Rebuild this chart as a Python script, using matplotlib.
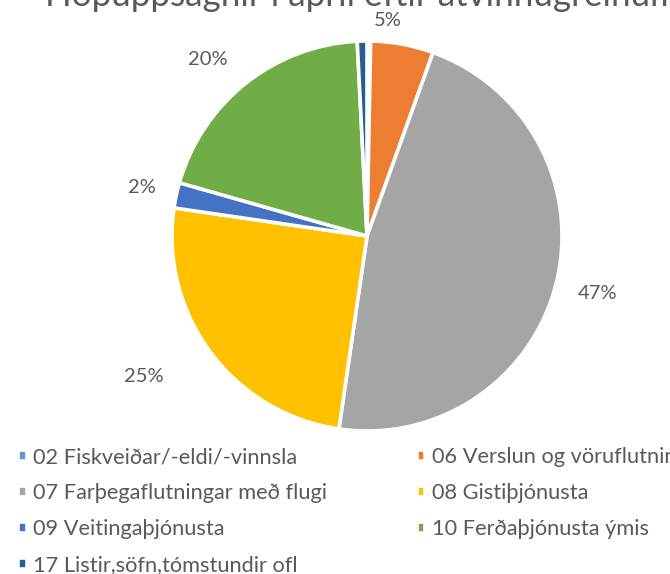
import matplotlib.pyplot as plt
import numpy as np

plt.rcParams['font.family'] = ['Lato', 'DejaVu Sans']

title = 'Hópuppsagnir í apríl eftir atvinnugreinum'
categories = ['02 Fiskveiðar/-eldi/-vinnsla', '06 Verslun og vöruflutningar',
              '07 Farþegaflutningar með flugi', '08 Gistiþjónusta',
              '09 Veitingaþjónusta', '10 Ferðaþjónusta ýmis',
              '17 Listir,söfn,tómstundir ofl']
shares = [0.3, 5.2, 46.8, 25.0, 2.1, 19.8, 0.8]
pct_labels = ['', '5%', '47%', '25%', '2%', '20%', '']
colors = ['#5B9BD5', '#ED7D31', '#A5A5A5', '#FFC000', '#4472C4', '#70AD47', '#255E91']

# label placement: radial distance and angle shift (deg, counter-clockwise)
label_dist = [1.15, 1.11, 1.22, 1.35, 1.18, 1.22, 1.15]
label_shift = [0, 5, 0, -4.5, 0, 3.5, 0]

fig = plt.figure(figsize=(6.7, 5.74), dpi=100)
# pie radius ~195 px, centre at (367, 236) px from top-left
lim = 1.4
R = 195
ax = fig.add_axes([(367 - lim * R) / 670, (574 - 236 - lim * R) / 574,
                   2 * lim * R / 670, 2 * lim * R / 574])
wedges, _ = ax.pie(shares, colors=colors, startangle=90, counterclock=False,
                   wedgeprops=dict(edgecolor='white', linewidth=2.6))
ax.set_xlim(-lim, lim)
ax.set_ylim(-lim, lim)
ax.set_aspect('equal')
ax.axis('off')

for w, lab, d, s in zip(wedges, pct_labels, label_dist, label_shift):
    if not lab:
        continue
    ang = np.deg2rad((w.theta1 + w.theta2) / 2 + s)
    ax.text(d * np.cos(ang), d * np.sin(ang), lab, ha='center', va='center',
            fontsize=14.5, color='#595959')

# title is cropped by the top edge, as in the source image
fig.text(362 / 670, 1 - 5.5 / 574, title, ha='center', va='baseline',
         fontsize=25.2, color='#595959')

# legend is filled row by row, two columns
order = [0, 2, 4, 6, 1, 3, 5]
fig.legend([wedges[i] for i in order], [categories[i] for i in order],
           ncol=2, loc='upper left', bbox_to_anchor=(18 / 670, 1 - 447 / 574),
           frameon=False, borderpad=0, borderaxespad=0,
           fontsize=15.7, labelcolor='#595959', handlelength=0.4,
           handleheight=0.4, handletextpad=0.3, columnspacing=4.1,
           labelspacing=0.74)

plt.savefig('out.png', dpi=100)
